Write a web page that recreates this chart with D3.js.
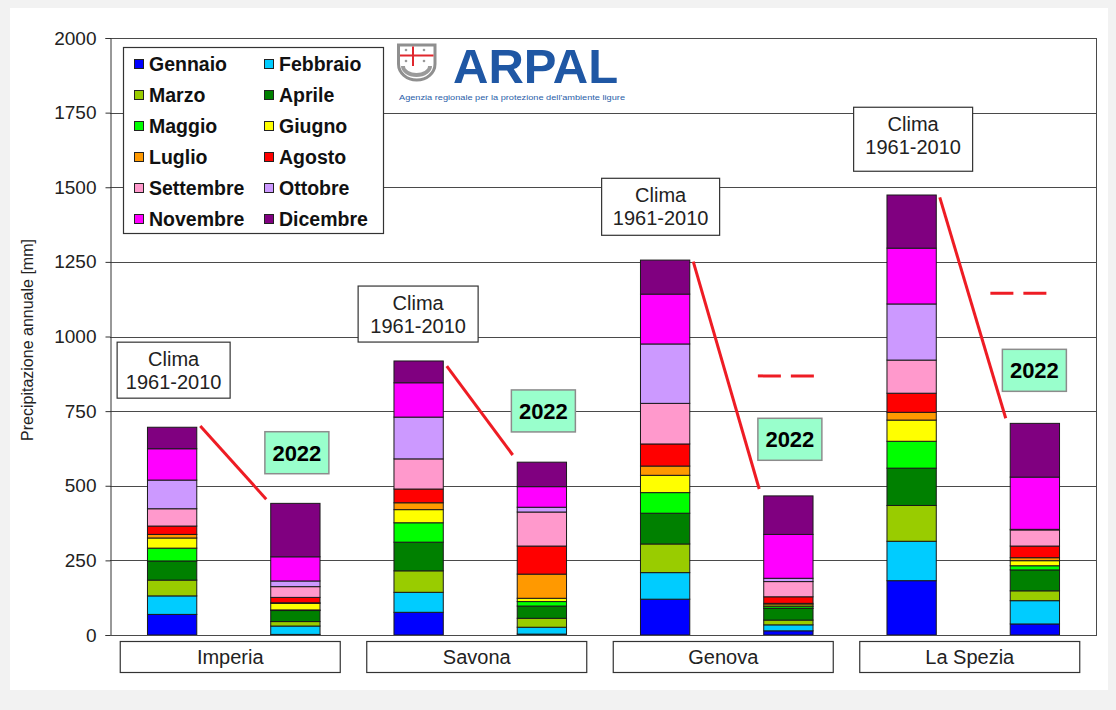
<!DOCTYPE html>
<html><head><meta charset="utf-8">
<script src="https://cdn.jsdelivr.net/npm/d3@7"></script>
<style>
html,body{margin:0;padding:0;background:#f2f2f2;}
svg{display:block;font-family:"Liberation Sans",Arial,sans-serif;}
</style></head>
<body>
<svg id="chart" width="1116" height="710"></svg>
<script>
// ---------------- DATA ----------------
const months = ["Gennaio","Febbraio","Marzo","Aprile","Maggio","Giugno","Luglio","Agosto","Settembre","Ottobre","Novembre","Dicembre"];
const monthColors = ["#0000FF","#00CCFF","#99CC00","#008000","#00FF00","#FFFF00","#FF9900","#FF0000","#FF99CC","#CC99FF","#FF00FF","#800080"];
const cities = ["Imperia","Savona","Genova","La Spezia"];
const periods = ["Clima","2022"];
const yTicks = [0,250,500,750,1000,1250,1500,1750,2000];

// monthly precipitation [mm], Gennaio..Dicembre
const imperiaClima   = [69,62,53,64,43,34,12,28,58,96,105,72];
const imperia2022    = [2,28,15,37,2,22,2,18,36,19,81,179];
const savonaClima    = [76,67,72,96,65,44,23,46,101,140,115,73];
const savona2022     = [3,23,30,41,15,11,81,94,114,16,69,82];
const genovaClima    = [120,89,96,103,69,58,31,74,136,199,167,114];
const genova2022     = [14,20,16,39,6,6,5,22,51,11,147,129];
const laSpeziaClima  = [182,132,120,125,90,71,26,64,111,188,187,178];
const laSpezia2022   = [37,78,33,70,14,17,10,39,54,2,175,180];

// red trend connector: value at start (near clima top) and at end (near 2022 top)
const trendStart = [700,901,1251,1466];
const trendEnd   = [455,603,489,726];
// dashed red reference marks (value), null = none
const dashedRef  = [null,null,868,1145];

// annotation layout (value-based tops)
const climaBoxTop = [981,1169,1530,1768];
const box2022Top  = [681,821,726,957];

// ---------------- BUILD ----------------
const climaByCity = [imperiaClima,savonaClima,genovaClima,laSpeziaClima];
const y2022ByCity = [imperia2022,savona2022,genova2022,laSpezia2022];
const rows = [];
cities.forEach((c,i)=>{
  rows.push({city:c, period:"Clima", key:c+"|Clima", values:climaByCity[i]});
  rows.push({city:c, period:"2022", key:c+"|2022", values:y2022ByCity[i]});
});

const W=1116, H=710;
const plot = {left:110, right:1096, top:38, bottom:635};
const svg = d3.select("#chart");

// background panel
svg.append("rect").attr("x",0).attr("y",0).attr("width",W).attr("height",H).attr("fill","#f2f2f2");
svg.append("rect").attr("x",10).attr("y",8).attr("width",1098).attr("height",682).attr("fill","#ffffff");

const x = d3.scaleBand().domain(rows.map(r=>r.key)).range([plot.left,plot.right]).paddingInner(0.6).paddingOuter(0.3);
const y = d3.scaleLinear().domain([0,2000]).range([plot.bottom,plot.top]);
const xc = k => x(k)+x.bandwidth()/2;

// gridlines
svg.append("g").selectAll("line").data(yTicks.filter(t=>t>0)).join("line")
  .attr("x1",plot.left).attr("x2",plot.right)
  .attr("y1",d=>Math.round(y(d))+0.5).attr("y2",d=>Math.round(y(d))+0.5)
  .attr("stroke","#4a4a4a").attr("stroke-width",1);
// right border
svg.append("line").attr("x1",plot.right+0.5).attr("x2",plot.right+0.5)
  .attr("y1",y(2000)).attr("y2",y(0)).attr("stroke","#4a4a4a");

// stacked bars
const stack = d3.stack().keys(d3.range(12)).value((r,i)=>r.values[i]);
const series = stack(rows);
svg.append("g").selectAll("g").data(series).join("g")
  .attr("fill",(s,i)=>monthColors[i])
  .selectAll("rect").data(s=>s.map(d=>({d,key:d.data.key}))).join("rect")
  .attr("x",o=>x(o.key)+0.5).attr("width",x.bandwidth())
  .attr("y",o=>y(o.d[1])).attr("height",o=>Math.max(0,y(o.d[0])-y(o.d[1])))
  .attr("stroke","#1a1a1a").attr("stroke-width",1);

// axes
const yAxis = d3.axisLeft(y).tickValues(yTicks).tickSize(5).tickPadding(9).tickFormat(d3.format("d"));
const ga = svg.append("g").attr("transform",`translate(${plot.left+0.5},0)`).call(yAxis);
ga.select(".domain").attr("stroke","#333");
ga.selectAll(".tick line").attr("stroke","#333");
ga.selectAll(".tick text").attr("font-size",19).attr("fill","#222").attr("font-family","Liberation Sans, Arial, sans-serif");
// bottom axis line
svg.append("line").attr("x1",plot.left).attr("x2",plot.right+1)
  .attr("y1",Math.round(y(0))+0.5).attr("y2",Math.round(y(0))+0.5).attr("stroke","#4a4a4a");

svg.append("text").attr("transform",`translate(33,340) rotate(-90)`)
  .attr("text-anchor","middle").attr("font-size",16).attr("fill","#222")
  .text("Precipitazione annuale [mm]");

// trend connectors
cities.forEach((c,i)=>{
  const kC=c+"|Clima", k2=c+"|2022";
  svg.append("line")
    .attr("x1",x(kC)+x.bandwidth()+4).attr("y1",y(trendStart[i]))
    .attr("x2",x(k2)-4).attr("y2",y(trendEnd[i]))
    .attr("stroke","#ee1c24").attr("stroke-width",3);
  if(dashedRef[i]!=null){
    const cx = xc(k2) - (i===3?16:2);
    svg.append("line").attr("x1",cx-28).attr("x2",cx+28)
      .attr("y1",y(dashedRef[i])).attr("y2",y(dashedRef[i]))
      .attr("stroke","#ee1c24").attr("stroke-width",3).attr("stroke-dasharray","23,10");
  }
});

// Clima boxes
const climaBoxW=[113,120,118,119], climaBoxH=[56,56,57,64], climaDx=[2,0,-4,2];
cities.forEach((c,i)=>{
  const cx = xc(c+"|Clima")+climaDx[i], top=y(climaBoxTop[i]);
  svg.append("rect").attr("x",cx-climaBoxW[i]/2).attr("y",top).attr("width",climaBoxW[i]).attr("height",climaBoxH[i])
    .attr("fill","#fff").attr("stroke","#333").attr("stroke-width",1.2);
  svg.append("text").attr("x",cx).attr("y",top+24).attr("text-anchor","middle").attr("font-size",20).attr("fill","#222").text("Clima");
  svg.append("text").attr("x",cx).attr("y",top+47).attr("text-anchor","middle").attr("font-size",20).attr("fill","#222").text("1961-2010");
});
// 2022 boxes
cities.forEach((c,i)=>{
  const cx = xc(c+"|2022")+(i===3?0:2), top=y(box2022Top[i]);
  svg.append("rect").attr("x",cx-32).attr("y",top).attr("width",64).attr("height",42)
    .attr("fill","#99FFCC").attr("stroke","#8c8c8c").attr("stroke-width",1.5);
  svg.append("text").attr("x",cx).attr("y",top+29).attr("text-anchor","middle").attr("font-size",22)
    .attr("font-weight","bold").attr("fill","#000").text("2022");
});

// category label boxes
const xCity = d3.scaleBand().domain(cities).range([plot.left,plot.right]);
cities.forEach(c=>{
  const cx = xCity(c)+xCity.bandwidth()/2-3;
  svg.append("rect").attr("x",cx-110).attr("y",641.5).attr("width",220).attr("height",31)
    .attr("fill","#fff").attr("stroke","#333").attr("stroke-width",1.2);
  svg.append("text").attr("x",cx).attr("y",664).attr("text-anchor","middle").attr("font-size",20).attr("fill","#222").text(c);
});

// legend
const lg = svg.append("g");
lg.append("rect").attr("x",123.5).attr("y",47.5).attr("width",260).attr("height",186).attr("fill","#fff").attr("stroke","#333").attr("stroke-width",1.2);
months.forEach((m,i)=>{
  const col=i%2, row=Math.floor(i/2);
  const cy = 64 + row*31;
  const sx = col===0?134:264;
  lg.append("rect").attr("x",sx+0.5).attr("y",cy-4.5).attr("width",9).attr("height",9)
    .attr("fill",monthColors[i]).attr("stroke","#222").attr("stroke-width",1);
  lg.append("text").attr("x",sx+15).attr("y",cy+6.5).attr("font-size",19.5).attr("font-weight","bold").attr("fill","#111").text(m);
});

// ARPAL logo
const logo = svg.append("g");
logo.append("rect").attr("x",395).attr("y",40).attr("width",234).attr("height",66).attr("fill","#fff");
logo.append("path").attr("d","M398.5,45 H435 V64 A18.25,16 0 0 1 398.5,64 Z")
  .attr("fill","#fff").attr("stroke","#8f8f8f").attr("stroke-width",3);
logo.append("path").attr("d","M401,66 H432 A15.5,11 0 0 1 401,66 Z").attr("fill","#9a9a9a");
logo.append("path").attr("d","M405,66 H428 A11.5,7 0 0 1 405,66 Z").attr("fill","#fff");
logo.append("line").attr("x1",400).attr("x2",433.5).attr("y1",55.5).attr("y2",55.5).attr("stroke","#e0282e").attr("stroke-width",2);
logo.append("line").attr("x1",413).attr("x2",413).attr("y1",46.5).attr("y2",66).attr("stroke","#e0282e").attr("stroke-width",2);
[[406,50],[424,50],[406,61],[424,61]].forEach(p=>logo.append("circle").attr("cx",p[0]).attr("cy",p[1]).attr("r",1.3).attr("fill","#999"));
logo.append("text").attr("x",453).attr("y",83).attr("font-size",49).attr("font-weight","bold").attr("fill","#1f57a4").text("ARPAL");
logo.append("text").attr("x",399).attr("y",100).attr("font-size",8).attr("fill","#2a5ea8")
  .attr("textLength",226).attr("lengthAdjust","spacingAndGlyphs").text("Agenzia regionale per la protezione dell'ambiente ligure");
</script>
</body></html>
